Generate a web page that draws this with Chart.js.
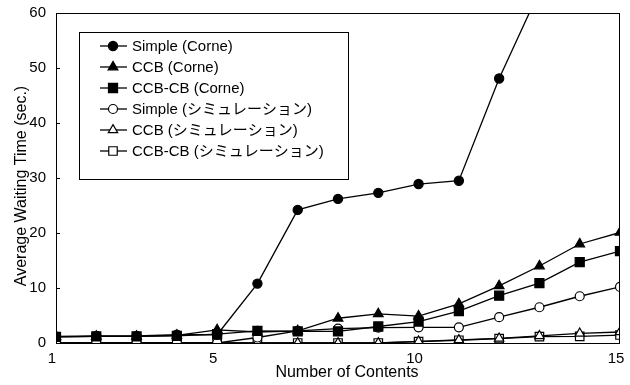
<!DOCTYPE html>
<html>
<head>
<meta charset="utf-8">
<script src="https://cdn.jsdelivr.net/npm/chart.js@4.4.1/dist/chart.umd.min.js"></script>
<style>
  html, body { margin: 0; padding: 0; background: #fff; }
  #wrap { width: 630px; height: 385px; }
</style>
</head>
<body>
<div id="wrap"><canvas id="c" width="630" height="385"></canvas></div>
<script>
// Number of contents on the x axis
const contents = [1, 2, 3, 4, 5, 6, 7, 8, 9, 10, 11, 12, 13, 14, 15];

// Average waiting time (sec.) measured on Corne
const simpleCorne = [1.2, 1.3, 1.3, 1.5, 1.5, 10.8, 24.2, 26.2, 27.3, 28.9, 29.5, 48.1, 64, null, null];
const ccbCorne    = [1.1, 1.2, 1.2, 1.4, 2.4, 2.0, 2.2, 4.5, 5.3, 4.9, 7.1, 10.4, 14.0, 18.0, 20.1];
const ccbcbCorne  = [1.1, 1.2, 1.2, 1.3, 1.6, 2.2, 2.1, 2.1, 3.0, 3.9, 5.8, 8.6, 10.9, 14.7, 16.7];

// Average waiting time (sec.) from simulation
const simpleSim = [0, 0, 0, 0, 0, 1.0, 2.2, 2.6, 2.8, 2.85, 2.85, 4.7, 6.5, 8.5, 10.2];
const ccbSim    = [0, 0, 0, 0, 0, 0, 0, 0, 0, 0.3, 0.55, 0.85, 1.3, 1.75, 2.0];
const ccbcbSim  = [0, 0, 0, 0, 0, 0, 0, 0, 0, 0.25, 0.5, 0.8, 1.15, 1.2, 1.45];

const seriesNames = [
  'Simple (Corne)',
  'CCB (Corne)',
  'CCB-CB (Corne)',
  'Simple (シミュレーション)',
  'CCB (シミュレーション)',
  'CCB-CB (シミュレーション)'
];

const xTickValues = [1, 5, 10, 15];
const yTickValues = [0, 10, 20, 30, 40, 50, 60];

const xTitle = 'Number of Contents';
const yTitle = 'Average Waiting Time (sec.)';

const FONT = "'Liberation Sans', 'Noto Sans CJK JP', Arial, sans-serif";

// marker look per series: [pointStyle, filled, radius]
const markerLook = [
  ['circle', true, 4.6],
  ['triangle', true, 5.6],
  ['rect', true, 6.4],
  ['circle', false, 4.5],
  ['triangle', false, 5.4],
  ['rect', false, 6.0]
];

const seriesValues = [simpleCorne, ccbCorne, ccbcbCorne, simpleSim, ccbSim, ccbcbSim];

const datasets = seriesValues.map((vals, i) => {
  const [style, filled, r] = markerLook[i];
  return {
    label: seriesNames[i],
    data: contents.map((x, k) => ({ x: x, y: vals[k] })),
    borderColor: '#000',
    borderWidth: 1.3,
    backgroundColor: filled ? '#000' : '#fff',
    pointStyle: style,
    pointRadius: r,
    pointBorderColor: '#000',
    pointBorderWidth: 1.2,
    pointBackgroundColor: filled ? '#000' : '#fff',
    tension: 0,
    spanGaps: false
  };
});

function drawMarker(ctx, style, filled, r, x, y) {
  ctx.save();
  ctx.beginPath();
  if (style === 'circle') {
    ctx.arc(x, y, r, 0, Math.PI * 2);
  } else if (style === 'triangle') {
    const a = Math.PI * 2 / 3;
    ctx.moveTo(x, y - r);
    ctx.lineTo(x + Math.sin(a) * r, y - Math.cos(a) * r);
    ctx.lineTo(x + Math.sin(2 * a) * r, y - Math.cos(2 * a) * r);
    ctx.closePath();
  } else {
    const s = Math.SQRT1_2 * r;
    ctx.rect(x - s, y - s, 2 * s, 2 * s);
  }
  ctx.fillStyle = filled ? '#000' : '#fff';
  ctx.fill();
  ctx.lineWidth = 1.2;
  ctx.strokeStyle = '#000';
  ctx.stroke();
  ctx.restore();
}

// frame, inner ticks, axis titles and the boxed legend
const decorations = {
  id: 'decorations',
  afterDatasetsDraw(chart) {
    const ctx = chart.ctx;
    const a = chart.chartArea;
    const ys = chart.scales.y;
    ctx.save();
    ctx.strokeStyle = '#000';
    ctx.lineWidth = 1;
    ctx.strokeRect(Math.round(a.left) + 0.5, Math.round(a.top) + 0.5,
                   Math.round(a.right - a.left) - 1, Math.round(a.bottom - a.top));
    yTickValues.forEach(v => {
      const py = Math.round(ys.getPixelForValue(v)) + 0.5;
      ctx.beginPath();
      ctx.moveTo(a.left, py);
      ctx.lineTo(a.left + 4, py);
      ctx.stroke();
    });

    ctx.fillStyle = '#000';
    ctx.font = '16px ' + FONT;
    ctx.textAlign = 'center';
    ctx.textBaseline = 'middle';
    ctx.fillText(xTitle, 347, 373);
    ctx.save();
    ctx.translate(22, 186);
    ctx.rotate(-Math.PI / 2);
    ctx.fillText(yTitle, 0, 0);
    ctx.restore();

    // legend box
    const bx = 79, by = 32, bw = 269, bh = 147;
    ctx.fillStyle = '#fff';
    ctx.fillRect(bx, by, bw, bh);
    ctx.strokeRect(bx + 0.5, by + 0.5, bw, bh);
    ctx.font = '15px ' + FONT;
    ctx.textAlign = 'left';
    ctx.textBaseline = 'middle';
    chart.data.datasets.forEach((ds, i) => {
      const cy = by + 14 + i * 21;
      ctx.beginPath();
      ctx.lineWidth = 1.3;
      ctx.moveTo(bx + 21, cy);
      ctx.lineTo(bx + 48, cy);
      ctx.stroke();
      const [style, filled, r] = markerLook[i];
      drawMarker(ctx, style, filled, r, bx + 34, cy);
      ctx.fillStyle = '#000';
      ctx.fillText(ds.label, bx + 53, cy + 1);
    });
    ctx.restore();
  }
};

new Chart(document.getElementById('c'), {
  type: 'line',
  data: { datasets: datasets },
  plugins: [decorations],
  options: {
    responsive: false,
    devicePixelRatio: 1,
    animation: false,
    layout: { padding: { top: 13, right: 10, left: 0, bottom: 0 } },
    plugins: { legend: { display: false }, tooltip: { enabled: false } },
    scales: {
      x: {
        type: 'linear',
        min: 1,
        max: 15,
        afterBuildTicks: s => { s.ticks = xTickValues.map(v => ({ value: v })); },
        afterFit: s => { s.height = 42; s.paddingLeft = 0; s.paddingRight = 0; },
        grid: { display: false, drawTicks: false },
        border: { display: false },
        ticks: {
          color: '#000',
          font: { size: 15, family: FONT },
          padding: 7,
          labelOffset: -4,
          maxRotation: 0,
          autoSkip: false
        }
      },
      y: {
        min: 0,
        max: 60,
        afterBuildTicks: s => { s.ticks = yTickValues.map(v => ({ value: v })); },
        afterFit: s => { s.width = 56; s.paddingTop = 0; s.paddingBottom = 0; },
        grid: { display: false, drawTicks: false },
        border: { display: false },
        ticks: {
          color: '#000',
          font: { size: 15, family: FONT },
          padding: 10
        }
      }
    }
  }
});
</script>
</body>
</html>
